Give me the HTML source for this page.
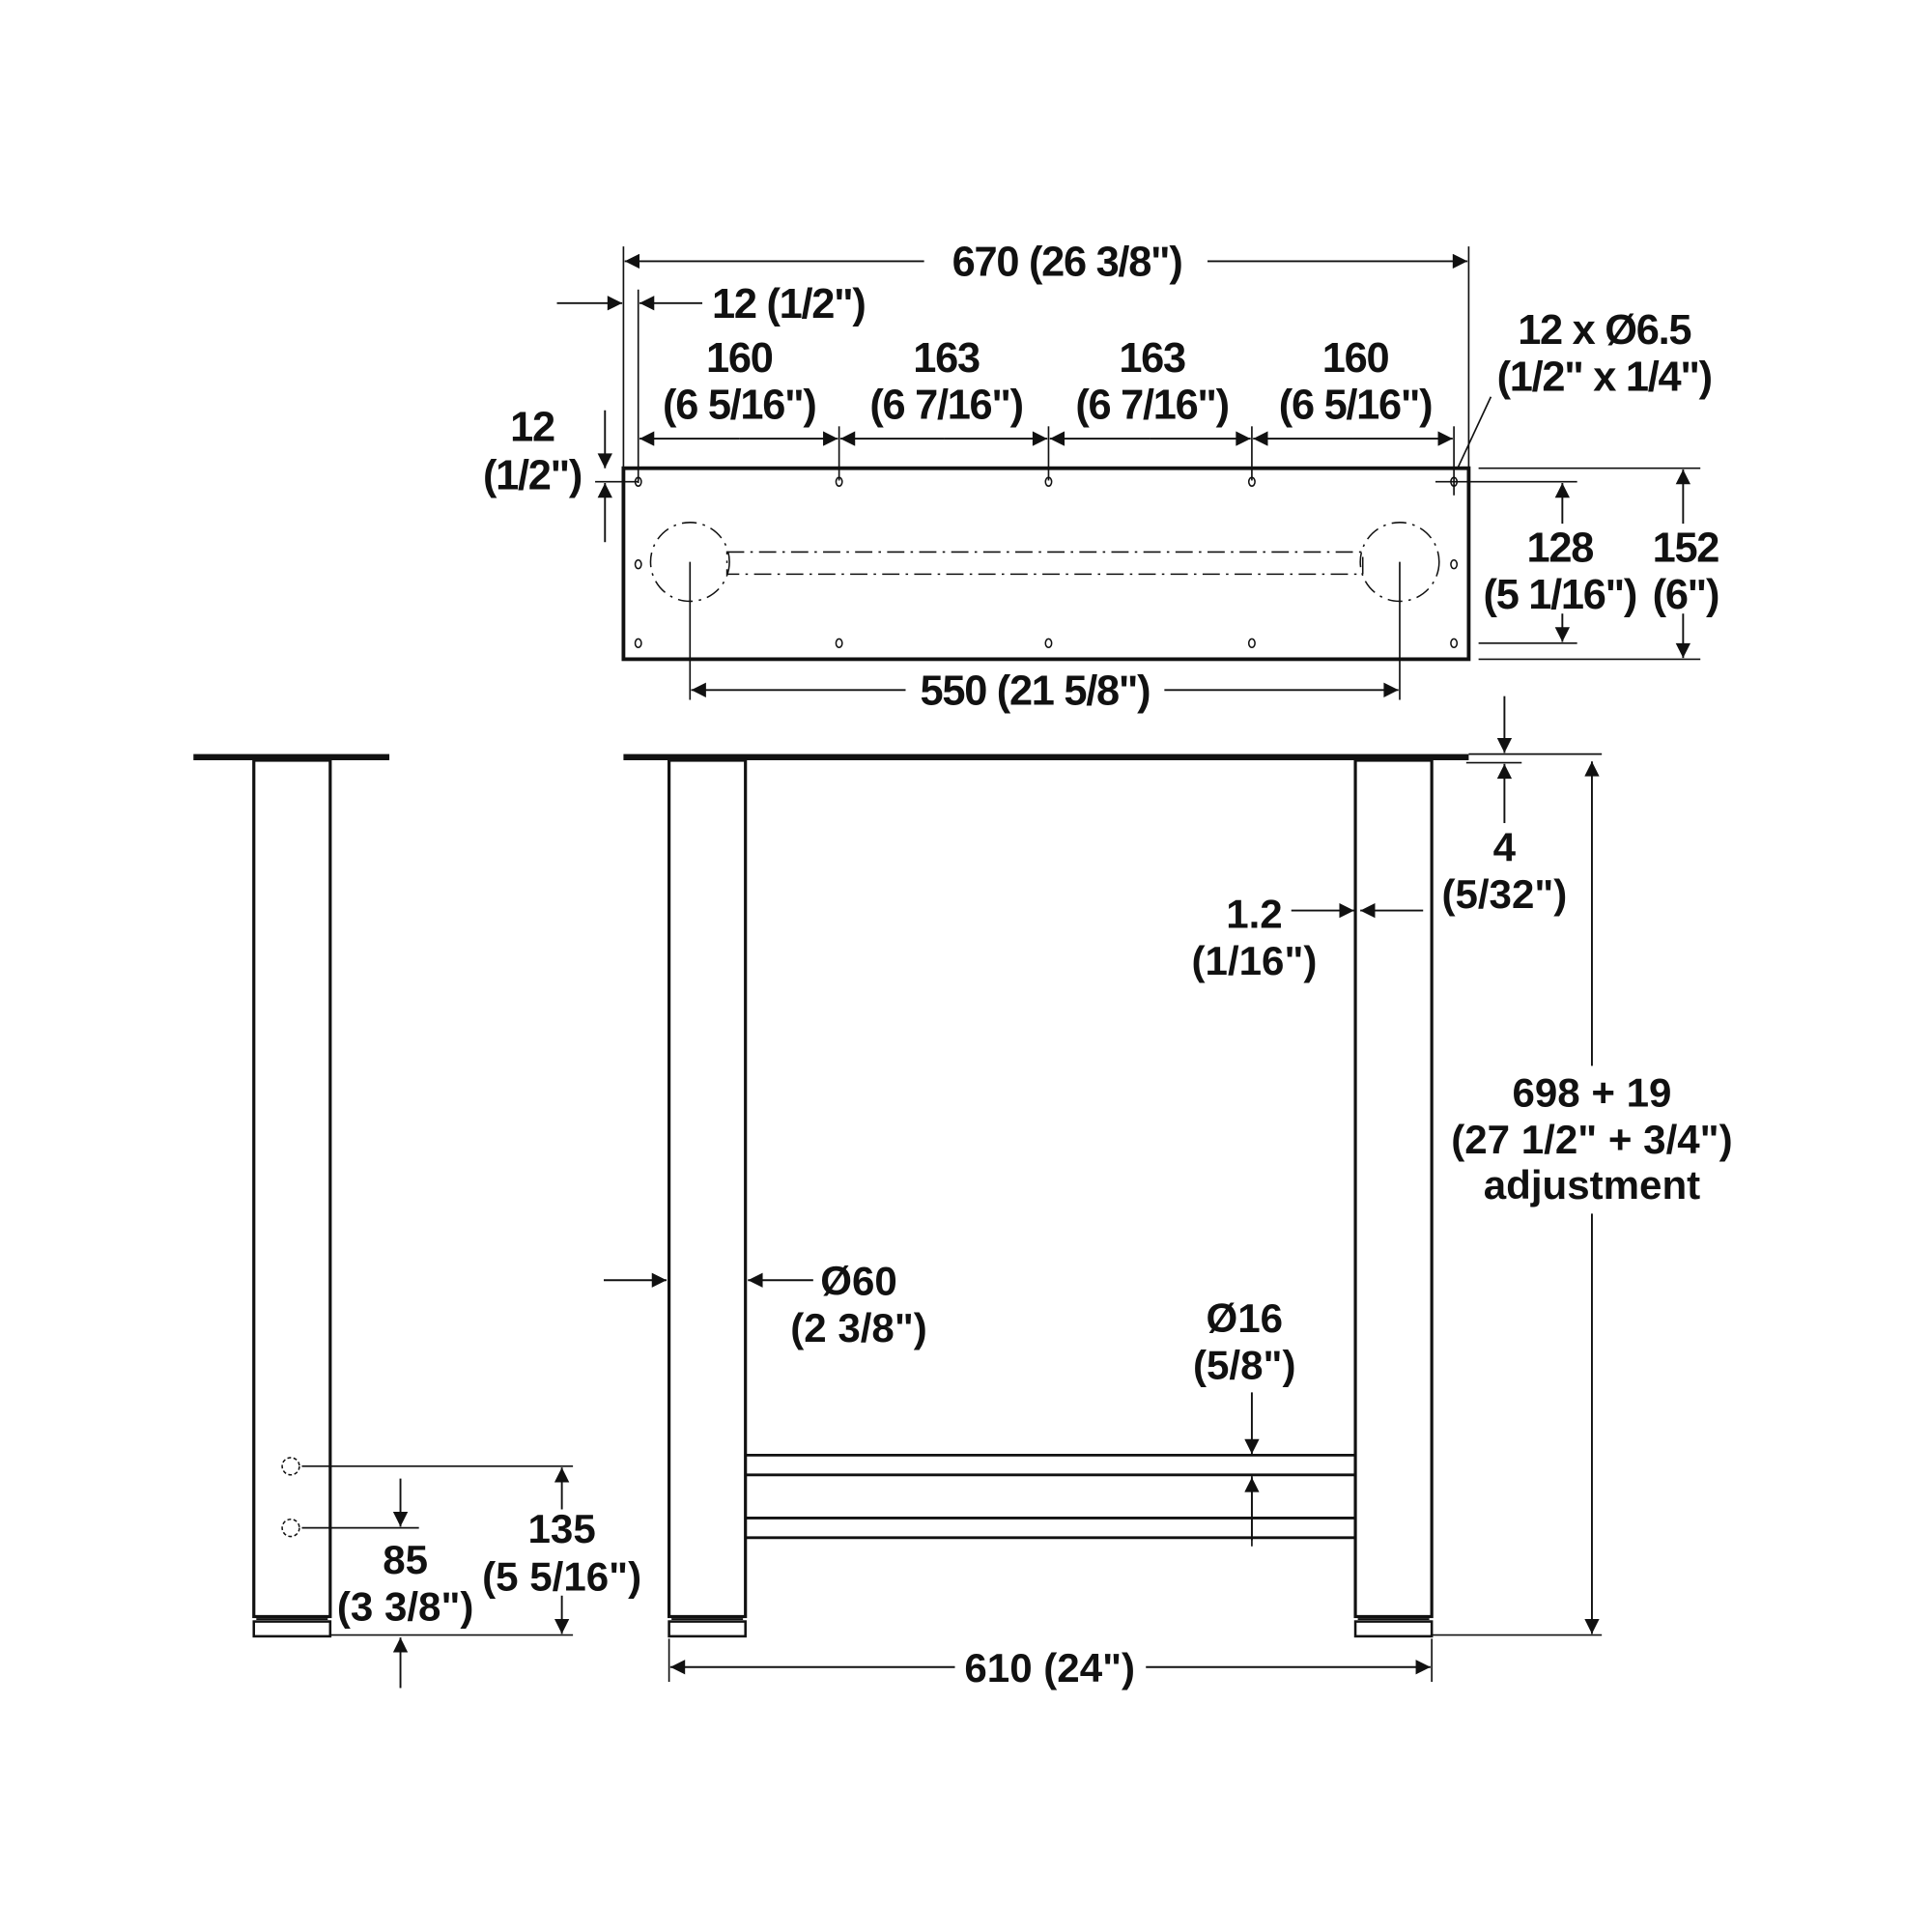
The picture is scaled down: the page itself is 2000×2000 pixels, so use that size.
<!DOCTYPE html>
<html><head><meta charset="utf-8"><style>
html,body{margin:0;padding:0;background:#fff}
svg{display:block}
text{font-family:"Liberation Sans",sans-serif;font-weight:bold;fill:#111;text-anchor:middle}
.c{font-size:34px;letter-spacing:-1px}
.n{font-size:33px}
</style></head><body>
<svg width="2000" height="2000" viewBox="0 0 1568 1568" xmlns="http://www.w3.org/2000/svg">
<defs>
<marker id="a" viewBox="0 0 10 10" refX="10" refY="5" markerWidth="22" markerHeight="12" markerUnits="userSpaceOnUse" orient="auto"><path d="M0,0 L10,5 L0,10 z" fill="#111"/></marker>
</defs>
<g stroke="#111" fill="none">
<rect x="506" y="380" width="686" height="155" stroke-width="3"/>
<g stroke-width="1.3">
<line x1="506" y1="200" x2="506" y2="380"/><line x1="1192" y1="200" x2="1192" y2="380"/>
<line x1="518" y1="235" x2="518" y2="392"/>
<line x1="681" y1="346" x2="681" y2="390"/><line x1="851" y1="346" x2="851" y2="390"/><line x1="1016" y1="346" x2="1016" y2="390"/><line x1="1180" y1="346" x2="1180" y2="402"/>
<line x1="1210" y1="322" x2="1183" y2="380"/>
<line x1="1200" y1="380" x2="1380" y2="380"/><line x1="1165" y1="391" x2="1280" y2="391"/>
<line x1="1200" y1="522" x2="1280" y2="522"/><line x1="1200" y1="535" x2="1380" y2="535"/>
<line x1="483" y1="391" x2="518" y2="391"/>
<line x1="560" y1="456" x2="560" y2="568"/><line x1="1136" y1="456" x2="1136" y2="568"/>
</g>
<g stroke-width="1.5" marker-end="url(#a)">
<line x1="750" y1="212" x2="507" y2="212"/><line x1="980" y1="212" x2="1191" y2="212"/>
<line x1="452" y1="246" x2="505" y2="246"/><line x1="570" y1="246" x2="519" y2="246"/>
<line x1="600" y1="356" x2="519" y2="356"/><line x1="600" y1="356" x2="680" y2="356"/>
<line x1="766" y1="356" x2="682" y2="356"/><line x1="766" y1="356" x2="850" y2="356"/>
<line x1="933" y1="356" x2="852" y2="356"/><line x1="933" y1="356" x2="1015" y2="356"/>
<line x1="1098" y1="356" x2="1017" y2="356"/><line x1="1098" y1="356" x2="1179" y2="356"/>
<line x1="491" y1="333" x2="491" y2="380"/><line x1="491" y1="440" x2="491" y2="392"/>
<line x1="1268" y1="425" x2="1268" y2="392"/><line x1="1268" y1="498" x2="1268" y2="521"/>
<line x1="1366" y1="425" x2="1366" y2="381"/><line x1="1366" y1="498" x2="1366" y2="534"/>
<line x1="735" y1="560" x2="561" y2="560"/><line x1="945" y1="560" x2="1135" y2="560"/>
</g>
<g stroke-width="1.2">
<ellipse cx="518" cy="391" rx="2.5" ry="3.5"/><ellipse cx="681" cy="391" rx="2.5" ry="3.5"/><ellipse cx="851" cy="391" rx="2.5" ry="3.5"/><ellipse cx="1016" cy="391" rx="2.5" ry="3.5"/><ellipse cx="1180" cy="391" rx="2.5" ry="3.5"/>
<ellipse cx="518" cy="522" rx="2.5" ry="3.5"/><ellipse cx="681" cy="522" rx="2.5" ry="3.5"/><ellipse cx="851" cy="522" rx="2.5" ry="3.5"/><ellipse cx="1016" cy="522" rx="2.5" ry="3.5"/><ellipse cx="1180" cy="522" rx="2.5" ry="3.5"/>
<ellipse cx="518" cy="458" rx="2.5" ry="3.5"/><ellipse cx="1180" cy="458" rx="2.5" ry="3.5"/>
<circle cx="560" cy="456" r="32" stroke-dasharray="12 5 2 5"/>
<circle cx="1136" cy="456" r="32" stroke-dasharray="12 5 2 5"/>
<path d="M590,448 H1106 V466 H590 Z" stroke-dasharray="14 5 2 5"/>
</g>
<rect x="157" y="612" width="159" height="5" fill="#111" stroke="none"/>
<rect x="206" y="617" width="62" height="695" stroke-width="2.5"/>
<rect x="206" y="1316" width="62" height="12" stroke-width="2"/>
<line x1="208" y1="1314" x2="266" y2="1314" stroke-width="1.5"/>
<circle cx="236" cy="1190" r="7" stroke-width="1.2" stroke-dasharray="3 2"/>
<circle cx="236" cy="1240" r="7" stroke-width="1.2" stroke-dasharray="3 2"/>
<g stroke-width="1.3">
<line x1="245" y1="1190" x2="465" y2="1190"/><line x1="245" y1="1240" x2="340" y2="1240"/><line x1="268" y1="1327" x2="465" y2="1327"/>
</g>
<g stroke-width="1.5" marker-end="url(#a)">
<line x1="325" y1="1200" x2="325" y2="1239"/><line x1="325" y1="1370" x2="325" y2="1329"/>
<line x1="456" y1="1225" x2="456" y2="1191"/><line x1="456" y1="1295" x2="456" y2="1326"/>
</g>
<rect x="506" y="612" width="686" height="5" fill="#111" stroke="none"/>
<rect x="543" y="617" width="62" height="695" stroke-width="2.5"/>
<rect x="543" y="1316" width="62" height="12" stroke-width="2"/>
<rect x="1100" y="617" width="62" height="695" stroke-width="2.5"/>
<rect x="1100" y="1316" width="62" height="12" stroke-width="2"/>
<line x1="545" y1="1314" x2="603" y2="1314" stroke-width="1.5"/><line x1="1102" y1="1314" x2="1160" y2="1314" stroke-width="1.5"/>
<g stroke-width="2.2">
<line x1="605" y1="1181" x2="1100" y2="1181"/><line x1="605" y1="1197" x2="1100" y2="1197"/>
<line x1="605" y1="1232" x2="1100" y2="1232"/><line x1="605" y1="1248" x2="1100" y2="1248"/>
</g>
<g stroke-width="1.3">
<line x1="543" y1="1330" x2="543" y2="1365"/><line x1="1162" y1="1330" x2="1162" y2="1365"/>
<line x1="1192" y1="612" x2="1300" y2="612"/><line x1="1162" y1="1327" x2="1300" y2="1327"/>
<line x1="1190" y1="619" x2="1235" y2="619"/>
<line x1="1016" y1="1197" x2="1016" y2="1255"/>
</g>
<g stroke-width="1.5" marker-end="url(#a)">
<line x1="1292" y1="865" x2="1292" y2="618"/><line x1="1292" y1="985" x2="1292" y2="1326"/>
<line x1="1221" y1="565" x2="1221" y2="611"/><line x1="1221" y1="668" x2="1221" y2="620"/>
<line x1="1048" y1="739" x2="1099" y2="739"/><line x1="1155" y1="739" x2="1104" y2="739"/>
<line x1="490" y1="1039" x2="541" y2="1039"/><line x1="660" y1="1039" x2="607" y2="1039"/>
<line x1="1016" y1="1130" x2="1016" y2="1180"/><line x1="1016" y1="1250" x2="1016" y2="1199"/>
<line x1="775" y1="1353" x2="544" y2="1353"/><line x1="930" y1="1353" x2="1161" y2="1353"/>
</g>
</g>
<text class="c" x="866" y="224">670 (26 3/8")</text>
<text class="c" x="640" y="258">12 (1/2")</text>
<text class="c" x="600" y="302">160</text><text class="c" x="600" y="340">(6 5/16")</text>
<text class="c" x="768" y="302">163</text><text class="c" x="768" y="340">(6 7/16")</text>
<text class="c" x="935" y="302">163</text><text class="c" x="935" y="340">(6 7/16")</text>
<text class="c" x="1100" y="302">160</text><text class="c" x="1100" y="340">(6 5/16")</text>
<text class="c" x="1302" y="279">12 x Ø6.5</text><text class="c" x="1302" y="317">(1/2" x 1/4")</text>
<text class="c" x="432" y="358">12</text><text class="c" x="432" y="397">(1/2")</text>
<text class="c" x="1266" y="456">128</text><text class="c" x="1266" y="494">(5 1/16")</text>
<text class="c" x="1368" y="456">152</text><text class="c" x="1368" y="494">(6")</text>
<text class="c" x="840" y="572">550 (21 5/8")</text>
<text class="n" x="1221" y="699">4</text><text class="n" x="1221" y="737">(5/32")</text>
<text class="n" x="1018" y="753">1.2</text><text class="n" x="1018" y="791">(1/16")</text>
<text class="n" x="1292" y="898">698 + 19</text><text class="n" x="1292" y="936">(27 1/2" + 3/4")</text><text class="n" x="1292" y="973">adjustment</text>
<text class="n" x="697" y="1051">Ø60</text><text class="n" x="697" y="1089">(2 3/8")</text>
<text class="n" x="1010" y="1081">Ø16</text><text class="n" x="1010" y="1119">(5/8")</text>
<text class="n" x="456" y="1252">135</text><text class="n" x="456" y="1291">(5 5/16")</text>
<text class="n" x="329" y="1277">85</text><text class="n" x="329" y="1315">(3 3/8")</text>
<text class="n" x="852" y="1365">610 (24")</text>
</svg>
</body></html>
